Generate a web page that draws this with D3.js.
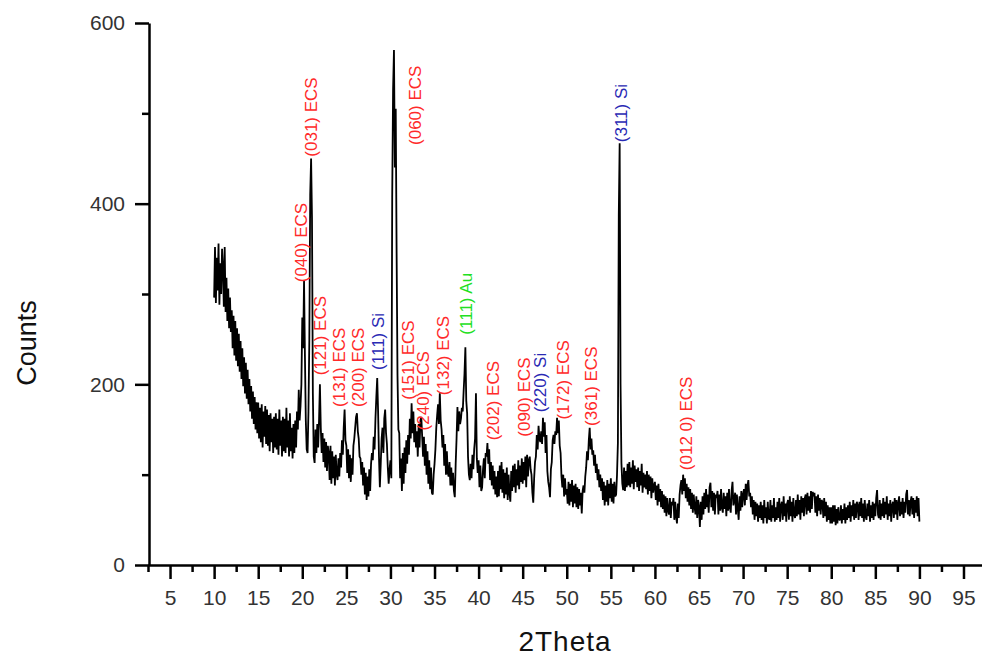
<!DOCTYPE html>
<html>
<head>
<meta charset="utf-8">
<script src="https://cdn.jsdelivr.net/npm/d3@7"></script>
<style>
  html, body { margin: 0; padding: 0; background: #ffffff; }
  svg { display: block; }
</style>
</head>
<body>
<svg id="chart" width="982" height="658"></svg>
<script>
// ---------- DATA ----------
// XRD pattern sampled every 0.1 degree 2Theta, starting at 10.0
const thetaStart = 10.0;
const thetaStep = 0.1;
const counts = [
  296,352,290,340,304,356,288,334,300,350, // 10
  330,286,352,280,318,270,306,262,296,258, // 11
  282,240,276,232,270,226,262,220,256,214, // 12
  248,206,240,198,230,190,224,184,216,178, // 13
  206,170,198,162,192,156,186,150,180,146, // 14
  180,140,174,136,178,130,170,142,176,134, // 15
  172,132,166,126,168,136,162,124,164,130, // 16
  168,128,162,122,172,132,160,120,164,126, // 17
  162,124,174,130,160,120,168,126,152,118, // 18
  156,124,160,130,170,150,194,160,176,200, // 19
  274,240,315,232,160,128,124,170,250,410, // 20
  450,385,190,120,113,150,124,156,130,160, // 21
  200,152,124,146,114,140,108,136,104,132, // 22
  124,94,132,90,126,96,120,88,122,100,     // 23
  94,118,98,124,108,138,122,152,172,138,   // 24
  132,102,128,96,122,92,118,100,132,140,   // 25
  152,164,168,148,140,120,118,100,114,88,  // 26
  108,78,102,72,98,76,106,82,112,124,      // 27
  116,142,128,162,186,207,170,120,86,112,  // 28
  140,152,124,162,172,146,134,108,90,106,  // 29
  116,96,407,526,570,440,505,345,210,150,  // 30
  146,96,118,82,124,90,130,102,138,112,    // 31
  144,122,162,140,179,146,170,136,156,130, // 32
  148,120,156,130,160,164,142,120,142,110, // 33
  134,100,126,90,116,84,108,80,78,100,     // 34
  112,128,152,166,178,156,190,160,150,130, // 35
  144,110,134,100,126,102,98,114,88,108,   // 36
  88,102,82,75,112,140,175,148,170,156,    // 37
  162,174,170,192,212,241,182,168,120,100, // 38
  94,112,96,122,106,128,140,190,118,102,   // 39
  116,86,110,82,86,106,118,96,124,120,     // 40
  135,112,128,94,114,88,110,84,104,78,     // 41
  98,75,104,76,110,84,114,80,106,74,       // 42
  102,78,108,72,100,80,70,104,82,110,      // 43
  86,112,80,106,88,116,84,110,92,118,      // 44
  90,114,94,120,86,122,98,116,120,106,     // 45
  100,80,69,96,114,120,144,128,154,140,    // 46
  136,148,134,163,142,158,124,144,104,92,  // 47
  86,75,106,114,138,144,134,148,144,163,   // 48
  146,160,132,124,98,86,100,76,96,78,      // 49
  84,68,92,66,90,70,94,64,88,68,           // 50
  90,64,86,62,84,66,80,57,82,88,           // 51
  80,98,108,126,116,138,152,128,140,122,   // 52
  127,110,122,102,112,94,106,86,100,82,    // 53
  96,72,92,66,88,70,94,66,90,74,           // 54
  96,70,90,68,92,76,78,100,135,387,        // 55
  467,200,113,90,83,108,82,104,86,112,     // 56
  88,114,86,108,90,116,84,110,92,106,      // 57
  86,108,82,104,88,112,80,102,86,100,      // 58
  84,104,78,100,82,98,74,96,80,88,         // 59
  92,72,88,66,90,70,84,64,82,62,           // 60
  78,58,76,54,74,60,56,74,52,70,           // 61
  66,74,50,70,54,46,68,52,78,88,           // 62
  94,78,100,82,96,74,90,70,86,66,          // 63
  84,62,80,58,78,64,56,76,52,72,           // 64
  64,42,70,50,76,56,80,62,84,64,           // 65
  78,58,86,91,64,82,60,80,56,78,           // 66
  74,82,56,78,60,84,64,58,80,62,           // 67
  76,54,80,60,84,64,58,82,92,66,           // 68
  72,80,56,78,62,50,76,60,82,64,           // 69
  78,84,66,90,72,88,94,76,80,64,           // 70
  76,56,72,50,70,54,68,48,66,52,           // 71
  70,50,66,46,72,52,64,46,70,52,           // 72
  50,72,48,66,52,74,48,64,50,70,           // 73
  52,74,48,66,70,50,76,54,68,48,           // 74
  68,72,50,76,54,70,48,74,56,52,           // 75
  72,54,78,56,72,50,76,58,74,54,           // 76
  74,78,56,80,60,76,58,82,62,81,           // 77
  76,80,58,76,54,78,60,74,56,72,           // 78
  70,52,74,54,70,48,66,50,64,46,           // 79
  64,46,66,48,66,44,62,46,64,50,           // 80
  50,66,46,62,50,68,46,64,50,66,           // 81
  52,70,48,66,54,72,50,68,52,70,           // 82
  66,50,70,54,74,52,68,48,72,54,           // 83
  50,68,54,72,48,66,52,70,50,68,           // 84
  54,74,83,56,52,72,50,68,54,74,           // 85
  52,70,56,76,50,68,54,72,48,66,           // 86
  70,52,74,56,72,50,68,76,54,70,           // 87
  56,74,52,70,58,78,83,56,72,54,           // 88
  70,76,56,74,52,72,58,76,54,74,           // 89
  48                                       // 90
];

// Peak annotations (anchor = start of rotated text, in data units)
const labelTexts  = ["(040) ECS","(031) ECS","(121) ECS","(131) ECS","(200) ECS","(111) Si","(060) ECS","(151) ECS","(240) ECS","(132) ECS","(111) Au","(202) ECS","(090) ECS","(220) Si","(172) ECS","(361) ECS","(311) Si","(012 0) ECS"];
const labelTheta  = [20.59, 21.62, 22.64, 24.79, 26.95, 29.22, 33.41, 32.62, 34.32, 36.59, 39.20, 42.26, 45.78, 47.59, 50.20, 53.38, 56.78, 64.16];
const labelCounts = [313, 452, 210, 175, 175, 216, 465, 183, 149, 188, 255, 138, 142, 169, 161, 154, 468, 105];
const labelPhase  = ["ECS","ECS","ECS","ECS","ECS","Si","ECS","ECS","ECS","ECS","Au","ECS","ECS","Si","ECS","ECS","Si","ECS"];
const phaseColors = { ECS: "#ff2a2a", Si: "#2a2ab4", Au: "#22e022" };

// Axis ticks
const xMajorTicks = [5,10,15,20,25,30,35,40,45,50,55,60,65,70,75,80,85,90,95];
const xMinorTicks = [2.5,7.5,12.5,17.5,22.5,27.5,32.5,37.5,42.5,47.5,52.5,57.5,62.5,67.5,72.5,77.5,82.5,87.5,92.5];
const yMajorTicks = [0,200,400,600];
const yMinorTicks = [100,300,500];
const xTitle = "2Theta";
const yTitle = "Counts";

// ---------- CHART ----------
const svg = d3.select("#chart");
const x = d3.scaleLinear().domain([2.5, 97.1]).range([148, 982]);
const y = d3.scaleLinear().domain([0, 600]).range([565, 23]);

const pts = counts.map((c, i) => [thetaStart + i * thetaStep, c]);

// data line
svg.append("path")
  .datum(pts)
  .attr("fill", "none")
  .attr("stroke", "#000")
  .attr("stroke-width", 1.8)
  .attr("stroke-linejoin", "bevel")
  .attr("d", d3.line().x(d => x(d[0])).y(d => y(d[1])));

const tickFont = "'Liberation Sans', Arial, sans-serif";

// X axis
const gx = svg.append("g").attr("transform", "translate(0,565)");
gx.call(d3.axisBottom(x).tickValues(xMajorTicks).tickSize(14).tickSizeOuter(0).tickPadding(11).tickFormat(d3.format("d")));
const gxm = svg.append("g").attr("transform", "translate(0,565)");
gxm.call(d3.axisBottom(x).tickValues(xMinorTicks).tickSize(7).tickSizeOuter(0).tickFormat(""));
gxm.select(".domain").remove();

// Y axis
const gy = svg.append("g").attr("transform", "translate(149,0)");
gy.call(d3.axisLeft(y).tickValues(yMajorTicks).tickSize(14).tickSizeOuter(0).tickPadding(10).tickFormat(d3.format("d")));
const gym = svg.append("g").attr("transform", "translate(149,0)");
gym.call(d3.axisLeft(y).tickValues(yMinorTicks).tickSize(7).tickSizeOuter(0).tickFormat(""));
gym.select(".domain").remove();

svg.selectAll(".domain").attr("stroke", "#000").attr("stroke-width", 2.5);
svg.selectAll(".tick line").attr("stroke", "#000").attr("stroke-width", 2.5);
svg.selectAll(".tick text")
  .attr("font-family", tickFont)
  .attr("font-size", 21)
  .attr("fill", "#333");

// Axis titles
svg.append("text")
  .attr("x", 565).attr("y", 651)
  .attr("text-anchor", "middle")
  .attr("font-family", tickFont)
  .attr("font-size", 28)
  .attr("letter-spacing", 1)
  .attr("fill", "#111")
  .text(xTitle);

svg.append("text")
  .attr("transform", "translate(36,343) rotate(-90)")
  .attr("text-anchor", "middle")
  .attr("font-family", tickFont)
  .attr("font-size", 27)
  .attr("fill", "#111")
  .text(yTitle);

// Peak labels
svg.append("g").selectAll("text")
  .data(labelTexts)
  .join("text")
  .attr("transform", (d, i) => `translate(${x(labelTheta[i])},${y(labelCounts[i])}) rotate(-90)`)
  .attr("font-family", tickFont)
  .attr("font-size", 17)
  .attr("fill", (d, i) => phaseColors[labelPhase[i]])
  .text(d => d);
</script>
</body>
</html>
